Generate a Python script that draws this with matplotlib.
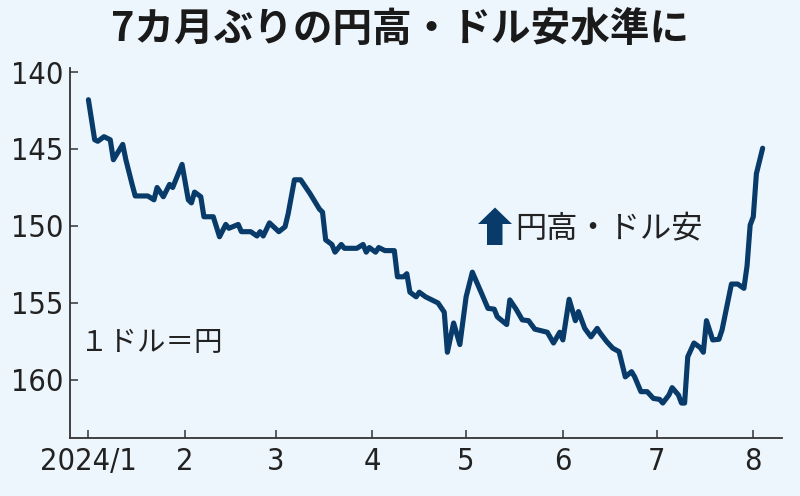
import numpy as np
import matplotlib
matplotlib.use("Agg")
import matplotlib.pyplot as plt
import matplotlib.dates as mdates
from matplotlib.patches import Polygon
from matplotlib import font_manager as fm

# ---- data (vertices, JPY per USD) ----
dates = [
    "2024-01-01", "2024-01-03", "2024-01-04", "2024-01-06", "2024-01-08", "2024-01-09",
    "2024-01-12", "2024-01-13", "2024-01-15", "2024-01-16", "2024-01-20", "2024-01-22",
    "2024-01-23", "2024-01-25", "2024-01-27", "2024-01-28", "2024-01-31", "2024-02-02",
    "2024-02-03", "2024-02-04", "2024-02-06", "2024-02-07", "2024-02-10", "2024-02-12",
    "2024-02-14", "2024-02-15", "2024-02-18", "2024-02-19", "2024-02-22", "2024-02-24",
    "2024-02-25", "2024-02-26", "2024-02-28", "2024-03-02", "2024-03-04", "2024-03-05",
    "2024-03-07", "2024-03-09", "2024-03-11", "2024-03-12", "2024-03-15", "2024-03-16",
    "2024-03-17", "2024-03-19", "2024-03-20", "2024-03-22", "2024-03-23", "2024-03-27",
    "2024-03-29", "2024-03-30", "2024-03-31", "2024-04-02", "2024-04-03", "2024-04-05",
    "2024-04-08", "2024-04-09", "2024-04-11", "2024-04-12", "2024-04-13", "2024-04-15",
    "2024-04-16", "2024-04-18", "2024-04-20", "2024-04-22", "2024-04-24", "2024-04-25",
    "2024-04-27", "2024-04-29", "2024-05-01", "2024-05-03", "2024-05-06", "2024-05-08",
    "2024-05-10", "2024-05-11", "2024-05-14", "2024-05-15", "2024-05-17", "2024-05-19",
    "2024-05-21", "2024-05-23", "2024-05-27", "2024-05-29", "2024-05-31", "2024-06-01",
    "2024-06-03", "2024-06-05", "2024-06-06", "2024-06-08", "2024-06-10", "2024-06-12",
    "2024-06-13", "2024-06-15", "2024-06-17", "2024-06-19", "2024-06-21", "2024-06-23",
    "2024-06-24", "2024-06-26", "2024-06-28", "2024-06-30", "2024-07-02", "2024-07-03",
    "2024-07-05", "2024-07-06", "2024-07-08", "2024-07-09", "2024-07-10", "2024-07-11",
    "2024-07-13", "2024-07-15", "2024-07-16", "2024-07-17", "2024-07-19", "2024-07-21",
    "2024-07-22", "2024-07-25", "2024-07-27", "2024-07-29", "2024-07-30", "2024-07-31",
    "2024-08-01", "2024-08-02", "2024-08-04",
]
rates = [
    141.8, 144.4, 144.5, 144.2, 144.4, 145.7,
    144.7, 145.7, 147.3, 148.05, 148.05, 148.3,
    147.5, 148.1, 147.3, 147.5, 146.0, 148.3,
    148.5, 147.8, 148.1, 149.4, 149.4, 150.7,
    149.9, 150.15, 149.9, 150.37, 150.37, 150.65,
    150.37, 150.65, 149.8, 150.37, 150.05, 149.2,
    147.0, 147.0, 147.6, 147.9, 148.9, 149.1,
    150.9, 151.2, 151.7, 151.2, 151.45, 151.45,
    151.2, 151.7, 151.4, 151.7, 151.4, 151.6,
    151.6, 153.3, 153.3, 153.1, 154.3, 154.6,
    154.3, 154.6, 154.8, 155.0, 155.6, 158.2,
    156.3, 157.7, 154.6, 153.0, 154.4, 155.35,
    155.4, 155.9, 156.4, 154.8, 155.4, 156.1,
    156.15, 156.7, 156.9, 157.6, 156.9, 157.4,
    154.76, 156.15, 155.56, 156.65, 157.2, 156.65,
    156.97, 157.5, 157.94, 158.16, 159.8, 159.46,
    159.8, 160.76, 160.76, 161.2, 161.26, 161.5,
    160.97, 160.5, 160.97, 161.5, 161.5, 158.5,
    157.6, 157.9, 158.2, 156.15, 157.4, 157.36,
    156.75, 153.77, 153.77, 154.05, 152.6, 149.94,
    149.4, 146.6, 144.95,
]
y_ticks = [140, 145, 150, 155, 160]
x_tick_dates = ["2024-01-01", "2024-02-01", "2024-03-01", "2024-04-01",
                "2024-05-01", "2024-06-01", "2024-07-01", "2024-08-01"]
x_tick_labels = ["2024/1", "2", "3", "4", "5", "6", "7", "8"]

title = "7カ月ぶりの円高・ドル安水準に"
unit_label = "１ドル＝円"
direction_label = "円高・ドル安"

# ---- style ----
BG = "#EEF6FD"
NAVY = "#083B69"
INK = "#222222"
CJK = ["Noto Sans CJK JP", "DejaVu Sans"]

# condensed face for the numbers if available
num_fp = None
for f in fm.fontManager.ttflist:
    if f.name == "DejaVu Sans" and f.stretch == "condensed" and f.style == "normal" \
            and f.weight in (400, "normal"):
        num_fp = fm.FontProperties(fname=f.fname, size=22)
        break
if num_fp is None:
    num_fp = fm.FontProperties(family=CJK, size=21)

plt.rcParams["font.family"] = CJK

W, H = 800, 496
fig = plt.figure(figsize=(W / 100, H / 100), dpi=100, facecolor=BG)
ax = fig.add_axes([70 / W, 1 - 437.7 / H, (782 - 70) / W, (437.7 - 68) / H])
ax.set_facecolor(BG)

x = mdates.datestr2num(dates)
ax.plot(x, rates, color=NAVY, lw=3.7, solid_joinstyle="round", solid_capstyle="round")

x0 = mdates.datestr2num("2024-01-01")
ax.set_xlim(x0 - 5.9, x0 + 222.2)
ax.set_ylim(163.75, 139.74)

ax.set_yticks(y_ticks)
ax.set_yticklabels([str(v) for v in y_ticks])
ax.set_xticks(mdates.datestr2num(x_tick_dates))
ax.set_xticklabels(x_tick_labels)

for s in ["top", "right"]:
    ax.spines[s].set_visible(False)
for s in ["left", "bottom"]:
    ax.spines[s].set_color("#333333")
    ax.spines[s].set_linewidth(1.3)

ax.tick_params(axis="both", direction="in", length=6, width=1.1, color="#333333",
               labelcolor=INK)
ax.tick_params(axis="y", pad=5)
ax.tick_params(axis="x", pad=7)
for lab in ax.get_xticklabels() + ax.get_yticklabels():
    lab.set_fontproperties(num_fp)

fig.text(0.5, 1 - 30 / H, title, ha="center", va="center", fontsize=28.5,
         fontweight="bold", color="#1A1A1A", family=CJK)

fig.text(80 / W, 1 - 343 / H, unit_label, ha="left", va="center", fontsize=20.5,
         color=INK, family=CJK)
fig.text(515 / W, 1 - 228 / H, direction_label, ha="left", va="center", fontsize=22.5,
         color=INK, family=CJK)

# up arrow (figure pixel geometry)
arrow_px = [(495, 207.5), (512, 224), (502.5, 224), (502.5, 245),
            (487, 245), (487, 224), (478, 224)]
arrow = Polygon([(px / W, 1 - py / H) for px, py in arrow_px], closed=True,
                transform=fig.transFigure, facecolor=NAVY, edgecolor="none")
fig.add_artist(arrow)

fig.savefig("out.png", dpi=100, facecolor=BG)
